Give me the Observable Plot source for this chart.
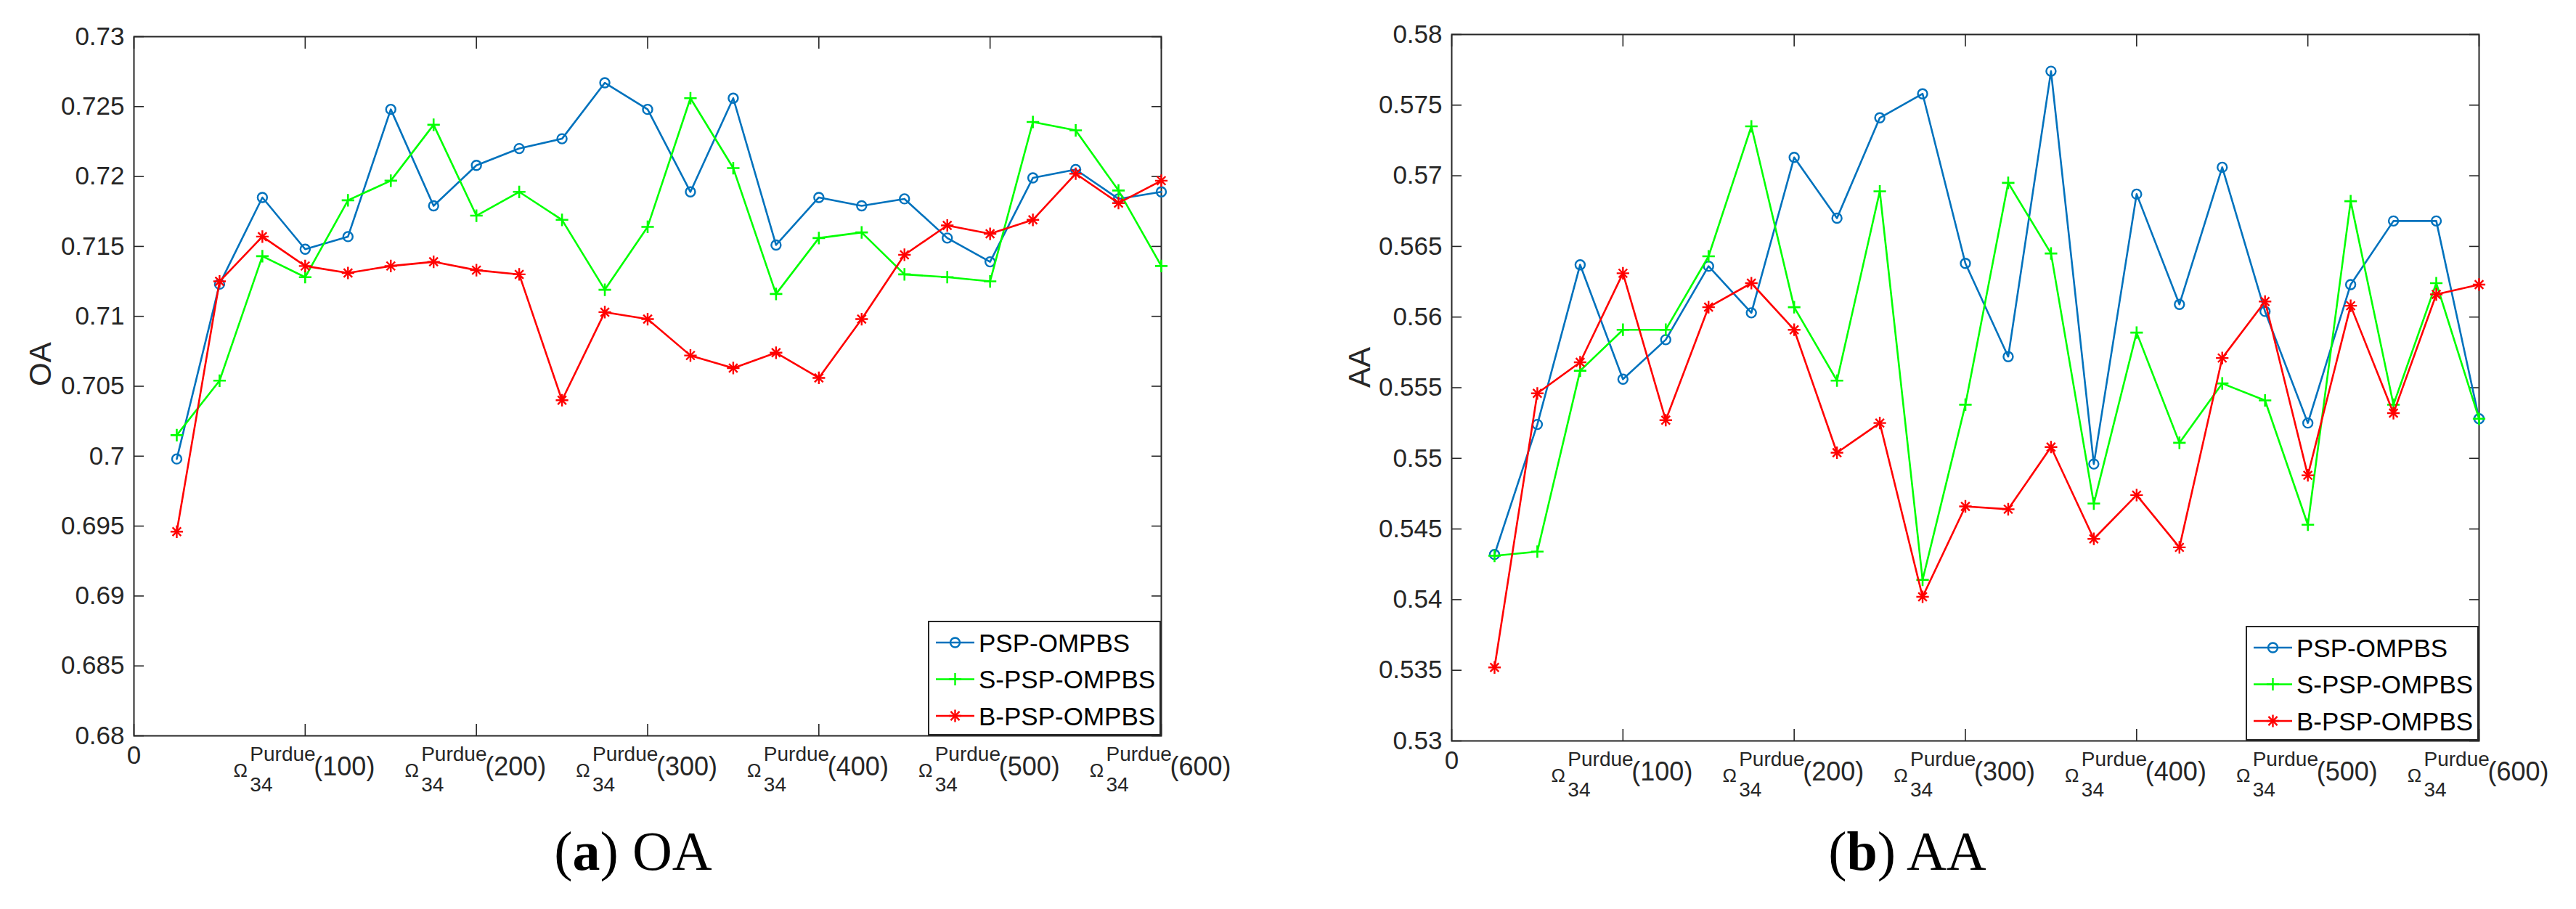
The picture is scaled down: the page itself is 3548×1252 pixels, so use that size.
<!DOCTYPE html>
<html><head><meta charset="utf-8">
<script src="https://cdn.jsdelivr.net/npm/d3@7"></script>
<script src="https://cdn.jsdelivr.net/npm/@observablehq/plot@0.6"></script>
<style>
html,body{margin:0;padding:0;background:#fff;width:3548px;height:1252px;overflow:hidden;}
#root{position:relative;width:3548px;height:1252px;}
.panel{position:absolute;top:0;}
.caption{position:absolute;top:1134px;font-family:"Liberation Serif","Times New Roman",serif;font-size:76px;line-height:76px;color:#000;white-space:nowrap;transform:translateX(-50%);}
svg.legend{position:absolute;overflow:visible;}
</style></head><body><div id="root"></div>
<script>
// ---- data ----
const bandCounts = [25,50,75,100,125,150,175,200,225,250,275,300,325,350,375,400,425,450,475,500,525,550,575,600];
const seriesNames = ["PSP-OMPBS","S-PSP-OMPBS","B-PSP-OMPBS"];
const seriesColors = ["#0072BD","#00FF00","#FF0000"];

const oaPSP  = [0.6998,0.7123,0.7185,0.7148,0.7157,0.7248,0.7179,0.7208,0.7220,0.7227,0.7267,0.7248,0.7189,0.7256,0.7151,0.7185,0.7179,0.7184,0.7156,0.7139,0.7199,0.7205,0.7184,0.7189];
const oaSPSP = [0.7015,0.7054,0.7143,0.7128,0.7183,0.7197,0.7237,0.7172,0.7189,0.7169,0.7119,0.7164,0.7256,0.7206,0.7116,0.7156,0.7160,0.7130,0.7128,0.7125,0.7239,0.7233,0.7190,0.7136];
const oaBPSP = [0.6946,0.7125,0.7157,0.7136,0.7131,0.7136,0.7139,0.7133,0.7130,0.7040,0.7103,0.7098,0.7072,0.7063,0.7074,0.7056,0.7098,0.7144,0.7165,0.7159,0.7169,0.7202,0.7181,0.7197];

const aaPSP  = [0.5432,0.5524,0.5637,0.5556,0.5584,0.5636,0.5603,0.5713,0.5670,0.5741,0.5758,0.5638,0.5572,0.5774,0.5496,0.5687,0.5609,0.5706,0.5604,0.5525,0.5623,0.5668,0.5668,0.5528];
const aaSPSP = [0.5431,0.5434,0.5562,0.5591,0.5591,0.5643,0.5735,0.5607,0.5555,0.5689,0.5414,0.5538,0.5695,0.5645,0.5468,0.5589,0.5511,0.5553,0.5541,0.5453,0.5682,0.5538,0.5624,0.5528];
const aaBPSP = [0.5352,0.5546,0.5568,0.5631,0.5527,0.5607,0.5624,0.5591,0.5504,0.5525,0.5402,0.5466,0.5464,0.5508,0.5443,0.5474,0.5437,0.5571,0.5611,0.5488,0.5608,0.5532,0.5616,0.5623];

const xTickValues = [0,100,200,300,400,500,600];
const xTickNumbers = ["0","(100)","(200)","(300)","(400)","(500)","(600)"];
const xTickSymbol = "Ω";
const xTickSup = "Purdue";
const xTickSub = "34";
const oaTicks = [0.68,0.685,0.69,0.695,0.7,0.705,0.71,0.715,0.72,0.725,0.73];
const oaTickLabels = ["0.68","0.685","0.69","0.695","0.7","0.705","0.71","0.715","0.72","0.725","0.73"];
const aaTicks = [0.53,0.535,0.54,0.545,0.55,0.555,0.56,0.565,0.57,0.575,0.58];
const aaTickLabels = ["0.53","0.535","0.54","0.545","0.55","0.555","0.56","0.565","0.57","0.575","0.58"];

const AX = "#262626";
const FONT = "'Liberation Sans', Arial, Helvetica, sans-serif";

function table(vals){ return bandCounts.map((x,i)=>({x, y: vals[i]})); }

function makePanel(cfg){
  const [s1,s2,s3] = cfg.series.map(table);
  const tickTable = xTickValues.map((v,i)=>({v, label: xTickNumbers[i]}));
  const omegaTicks = tickTable.slice(1);
  const zeroTick = tickTable.slice(0,1);
  const yLab = new Map(cfg.yTicks.map((t,i)=>[t, cfg.yTickLabels[i]]));
  const chart = Plot.plot({
    width: cfg.width, height: cfg.height,
    marginLeft: cfg.ml, marginRight: cfg.mr, marginTop: cfg.mt, marginBottom: cfg.mb,
    style: {background: "white", fontFamily: FONT, overflow: "visible", color: AX},
    x: {domain: [0, 600]},
    y: {domain: cfg.yDomain},
    marks: [
      Plot.axisY(cfg.yTicks, {anchor: "left", tickSize: -14, tickPadding: 27, fontSize: 35, stroke: AX, strokeWidth: 1.6, fill: AX, tickFormat: d => yLab.get(d), label: null}),
      Plot.axisY(cfg.yTicks, {anchor: "right", tickSize: -14, stroke: AX, strokeWidth: 1.6, tickFormat: () => "", label: null}),
      Plot.axisX(xTickValues, {anchor: "bottom", tickSize: -16, stroke: AX, strokeWidth: 1.6, tickFormat: () => "", label: null}),
      Plot.axisX(xTickValues, {anchor: "top", tickSize: -16, stroke: AX, strokeWidth: 1.6, tickFormat: () => "", label: null}),
      Plot.frame({stroke: AX, strokeWidth: 2}),
      // x tick labels
      Plot.text(zeroTick, {x: "v", text: "label", frameAnchor: "bottom", dy: 38, fontSize: 35, fill: AX}),
      Plot.text(omegaTicks, {x: "v", text: () => xTickSymbol, frameAnchor: "bottom", dx: -89, dy: 56, fontSize: 26, fill: AX}),
      Plot.text(omegaTicks, {x: "v", text: () => xTickSup, frameAnchor: "bottom", dx: -76, dy: 34, fontSize: 28, textAnchor: "start", fill: AX}),
      Plot.text(omegaTicks, {x: "v", text: () => xTickSub, frameAnchor: "bottom", dx: -76, dy: 76, fontSize: 28, textAnchor: "start", fill: AX}),
      Plot.text(omegaTicks, {x: "v", text: "label", frameAnchor: "bottom", dx: 12, dy: 54, fontSize: 36, textAnchor: "start", fill: AX}),
      // y label
      Plot.text([cfg.yLabel], {text: d => d, frameAnchor: "left", dx: cfg.yLabelDx, rotate: -90, fontSize: 42, fill: AX}),
      // series
      Plot.line(s1, {x: "x", y: "y", stroke: seriesColors[0], strokeWidth: 2.6}),
      Plot.dot(s1, {x: "x", y: "y", symbol: "circle", r: 6.5, stroke: seriesColors[0], strokeWidth: 2.4, fill: "none"}),
      Plot.line(s2, {x: "x", y: "y", stroke: seriesColors[1], strokeWidth: 2.6}),
      Plot.dot(s2, {x: "x", y: "y", symbol: "plus", r: 5.6, stroke: seriesColors[1], strokeWidth: 2.6}),
      Plot.line(s3, {x: "x", y: "y", stroke: seriesColors[2], strokeWidth: 2.6}),
      Plot.dot(s3, {x: "x", y: "y", symbol: "plus", r: 5.6, stroke: seriesColors[2], strokeWidth: 2.4}),
      Plot.dot(s3, {x: "x", y: "y", symbol: "times", r: 5.4, stroke: seriesColors[2], strokeWidth: 2.4})
    ]
  });
  const div = document.createElement("div");
  div.className = "panel";
  div.style.left = cfg.left + "px";
  div.appendChild(chart);
  document.getElementById("root").appendChild(div);

  // legend (inside frame, lower right)
  const frameRight = cfg.left + cfg.width - cfg.mr;
  const frameBottom = cfg.height - cfg.mb;
  const bw = 321, bh = 158;
  const lg = d3.select("#root").append("svg").attr("class","legend")
    .attr("width", bw).attr("height", bh)
    .style("left", (frameRight - bw) + "px").style("top", (frameBottom - bh) + "px");
  lg.append("rect").attr("x",1).attr("y",1).attr("width",bw-2).attr("height",bh-2)
    .attr("fill","white").attr("stroke",AX).attr("stroke-width",2);
  const syms = [[d3.symbolCircle],[d3.symbolPlus],[d3.symbolPlus,d3.symbolTimes]];
  seriesNames.forEach((name,i)=>{
    const cy = 30 + i*50.5;
    const g = lg.append("g");
    g.append("line").attr("x1",11).attr("x2",64).attr("y1",cy).attr("y2",cy)
      .attr("stroke",seriesColors[i]).attr("stroke-width",2.6);
    syms[i].forEach(t=>{
      const r = t===d3.symbolCircle ? 6.5 : 5.6;
      g.append("path").attr("transform",`translate(37.5,${cy})`)
        .attr("d", d3.symbol(t, Math.PI*r*r)())
        .attr("fill", "none").attr("stroke",seriesColors[i]).attr("stroke-width",2.4);
    });
    g.append("text").attr("x",70).attr("y",cy).attr("dy","0.36em")
      .attr("font-family",FONT).attr("font-size",35).attr("fill","#000").text(name);
  });

  const cap = document.createElement("div");
  cap.className = "caption";
  cap.style.left = cfg.captionX + "px";
  cap.innerHTML = `(<b>${cfg.captionLetter}</b>) ${cfg.yLabel}`;
  document.getElementById("root").appendChild(cap);
}

makePanel({left: 0, width: 1700, height: 1123, ml: 184, mr: 101, mt: 50, mb: 110,
  yDomain: [0.68, 0.73], yTicks: oaTicks, yTickLabels: oaTickLabels, yLabel: "OA", yLabelDx: -128,
  series: [oaPSP, oaSPSP, oaBPSP], captionX: 872, captionLetter: "a"});
makePanel({left: 1774, width: 1774, height: 1130, ml: 225, mr: 134, mt: 47, mb: 110,
  yDomain: [0.53, 0.58], yTicks: aaTicks, yTickLabels: aaTickLabels, yLabel: "AA", yLabelDx: -126,
  series: [aaPSP, aaSPSP, aaBPSP], captionX: 2627, captionLetter: "b"});
</script></body></html>
